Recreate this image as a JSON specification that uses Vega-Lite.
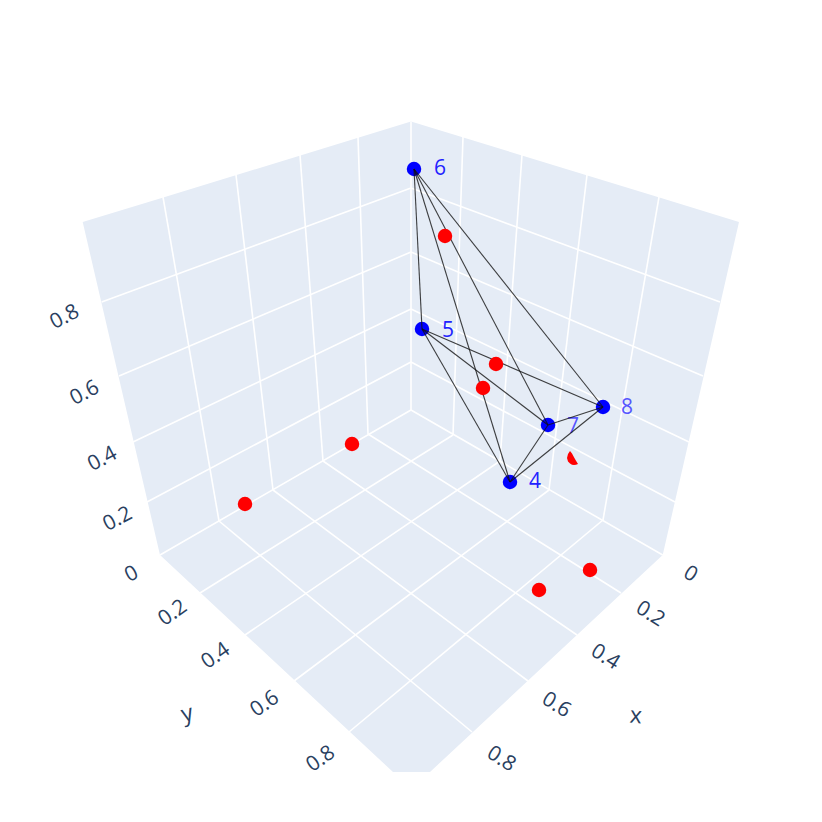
{
"$schema":"https://vega.github.io/schema/vega-lite/v6.json",
"width":822,"height":822,"padding":0,
"autosize":{"type":"fit","contains":"padding"},
"background":"white",
"view":{"stroke":null},
"datasets":{
"wallLeft":[
{"sx":82.7,"top":222,"bottom":222},{"sx":160,"top":198.5,"bottom":555},{"sx":411,"top":121.5,"bottom":410}],
"wallRight":[
{"sx":411,"top":121.5,"bottom":410},{"sx":662.7,"top":198.6,"bottom":555},{"sx":739,"top":222,"bottom":222}],
"floor":[
{"sx":160,"top":555,"bottom":555},{"sx":393,"top":420.4,"bottom":772},{"sx":411,"top":410,"bottom":772},{"sx":430,"top":421,"bottom":772},{"sx":662.7,"top":555,"bottom":555}
],
"grid":[
{"sx":163,"sy":197,"ex":219,"ey":521},{"sx":236,"sy":175,"ex":273,"ey":490},{"sx":300,"sy":155,"ex":323,"ey":461},{"sx":358,"sy":137,"ex":368,"ey":434},{"sx":411,"sy":121.5,"ex":411,"ey":410},
{"sx":463,"sy":137,"ex":453,"ey":435},{"sx":522,"sy":155,"ex":500,"ey":461},{"sx":587,"sy":175,"ex":549,"ey":490},{"sx":659,"sy":197,"ex":603,"ey":520},
{"sx":101.7,"sy":302,"ex":411,"ey":188},{"sx":119,"sy":376,"ex":411,"ey":252},{"sx":133,"sy":442,"ex":411,"ey":309},{"sx":147,"sy":502,"ex":411,"ey":362},
{"sx":720,"sy":302,"ex":411,"ey":188},{"sx":703,"sy":376,"ex":411,"ey":252},{"sx":689,"sy":442,"ex":411,"ey":309},{"sx":675,"sy":502,"ex":411,"ey":362},
{"sx":160,"sy":555,"ex":411,"ey":410},{"sx":662.7,"sy":555,"ex":411,"ey":410},
{"sx":200,"sy":593,"ex":453,"ey":435},{"sx":245,"sy":635,"ex":500,"ey":461},{"sx":294,"sy":681,"ex":549,"ey":490},{"sx":349,"sy":732,"ex":603,"ey":520},
{"sx":621,"sy":593,"ex":368,"ey":434},{"sx":577,"sy":635,"ex":323,"ey":461},{"sx":528,"sy":681,"ex":273,"ey":490},{"sx":472,"sy":732,"ex":219,"ey":521}
],
"mesh":[
{"a":"6","b":"5","sx":414,"sy":169,"ex":422,"ey":329},
{"a":"6","b":"4","sx":414,"sy":169,"ex":510,"ey":482},
{"a":"6","b":"7","sx":414,"sy":169,"ex":548,"ey":425},
{"a":"6","b":"8","sx":414,"sy":169,"ex":603,"ey":407},
{"a":"5","b":"4","sx":422,"sy":329,"ex":510,"ey":482},
{"a":"5","b":"7","sx":422,"sy":329,"ex":548,"ey":425},
{"a":"5","b":"8","sx":422,"sy":329,"ex":603,"ey":407},
{"a":"7","b":"4","sx":548,"sy":425,"ex":510,"ey":482},
{"a":"7","b":"8","sx":548,"sy":425,"ex":603,"ey":407},
{"a":"8","b":"4","sx":603,"sy":407,"ex":510,"ey":482}
],
"blue":[
{"label":"6","sx":414,"sy":169,"lx":440,"ly":168},
{"label":"5","sx":422,"sy":329,"lx":448,"ly":330},
{"label":"8","sx":603,"sy":407,"lx":627,"ly":407},
{"label":"7","sx":548,"sy":425,"lx":573,"ly":426},
{"label":"4","sx":510,"sy":482,"lx":535,"ly":481}
],
"red":[
{"sx":445,"sy":236},{"sx":496,"sy":364},{"sx":483,"sy":388},{"sx":352,"sy":444},{"sx":245,"sy":504},{"sx":590,"sy":570},{"sx":539,"sy":590}
],
"redClipped":[
{"sx":567,"top":458,"bottom":458},{"sx":568,"top":454,"bottom":461.5},{"sx":570,"top":451,"bottom":463.5},{"sx":572,"top":453.5,"bottom":464.7},{"sx":574,"top":457.3,"bottom":465},{"sx":576,"top":460.8,"bottom":464.7},{"sx":578,"top":464,"bottom":464}
],
"ticksX":[{"t":"0","sx":691,"sy":573},{"t":"0.2","sx":651,"sy":613},{"t":"0.4","sx":606,"sy":656},{"t":"0.6","sx":557,"sy":704},{"t":"0.8","sx":502,"sy":758}],
"ticksY":[{"t":"0.2","sx":172,"sy":612},{"t":"0.4","sx":215,"sy":655},{"t":"0.6","sx":264,"sy":703},{"t":"0.8","sx":320,"sy":758}],
"ticksZ":[{"t":"0","sx":131,"sy":573},{"t":"0.2","sx":117,"sy":518},{"t":"0.4","sx":101.7,"sy":458},{"t":"0.6","sx":84,"sy":392},{"t":"0.8","sx":64,"sy":316}],
"titleX":[{"t":"x","sx":636,"sy":715}],
"titleY":[{"t":"y","sx":187,"sy":713}]
},
"encoding":{
"x":{"field":"sx","type":"quantitative","scale":{"domain":[0,822],"nice":false,"zero":false},"axis":null},
"y":{"field":"sy","type":"quantitative","scale":{"domain":[822,0],"nice":false,"zero":false},"axis":null}
},
"layer":[
{"data":{"name":"wallLeft"},"mark":{"type":"area","color":"#E5ECF6","opacity":1},"encoding":{"y":{"field":"top","type":"quantitative","axis":null,"scale":{"domain":[822,0],"nice":false,"zero":false}},"y2":{"field":"bottom"}}},
{"data":{"name":"wallRight"},"mark":{"type":"area","color":"#E5ECF6","opacity":1},"encoding":{"y":{"field":"top","type":"quantitative","axis":null,"scale":{"domain":[822,0],"nice":false,"zero":false}},"y2":{"field":"bottom"}}},
{"data":{"name":"floor"},"mark":{"type":"area","color":"#E5ECF6","opacity":1},"encoding":{"y":{"field":"top","type":"quantitative","axis":null,"scale":{"domain":[822,0],"nice":false,"zero":false}},"y2":{"field":"bottom"}}},
{"data":{"name":"grid"},"mark":{"type":"rule","color":"white","strokeWidth":1.6},"encoding":{"x2":{"field":"ex"},"y2":{"field":"ey"}}},
{"data":{"name":"blue"},"mark":{"type":"point","filled":true,"shape":"circle","size":210,"color":"#0000FF","opacity":1}},
{"data":{"name":"blue"},"mark":{"type":"text","fontSize":21,"font":"Open Sans","align":"center","baseline":"middle","dy":1},"encoding":{"x":{"field":"lx","type":"quantitative","axis":null},"y":{"field":"ly","type":"quantitative","axis":null},"text":{"field":"label"},"color":{"field":"label","type":"nominal","legend":null,"scale":{"domain":["4","5","6","7","8"],"range":["#2222FF","#2222FF","#2222FF","#5555FF","#5555FF"]}}}},
{"data":{"name":"mesh"},"mark":{"type":"rule","color":"#111111","strokeWidth":1.1,"opacity":0.8},"encoding":{"x2":{"field":"ex"},"y2":{"field":"ey"}}},
{"data":{"name":"red"},"mark":{"type":"point","filled":true,"shape":"circle","size":210,"color":"#FF0000","opacity":1}},
{"data":{"name":"redClipped"},"mark":{"type":"area","color":"#FF0000","opacity":1},"encoding":{"y":{"field":"top","type":"quantitative","axis":null,"scale":{"domain":[822,0],"nice":false,"zero":false}},"y2":{"field":"bottom"}}},
{"data":{"name":"ticksX"},"mark":{"type":"text","fontSize":21,"font":"Open Sans","color":"#2A3F5F","angle":32,"align":"center","baseline":"middle","dy":1.5},"encoding":{"text":{"field":"t"}}},
{"data":{"name":"ticksY"},"mark":{"type":"text","fontSize":21,"font":"Open Sans","color":"#2A3F5F","angle":-35,"align":"center","baseline":"middle","dy":1.5},"encoding":{"text":{"field":"t"}}},
{"data":{"name":"ticksZ"},"mark":{"type":"text","fontSize":21,"font":"Open Sans","color":"#2A3F5F","angle":-28,"align":"center","baseline":"middle","dy":1.5},"encoding":{"text":{"field":"t"}}},
{"data":{"name":"titleX"},"mark":{"type":"text","fontSize":23,"font":"Open Sans","color":"#2A3F5F","angle":5,"align":"center","baseline":"middle","dy":1},"encoding":{"text":{"field":"t"}}},
{"data":{"name":"titleY"},"mark":{"type":"text","fontSize":23,"font":"Open Sans","color":"#2A3F5F","angle":-15,"align":"center","baseline":"middle","dy":1},"encoding":{"text":{"field":"t"}}}
]
}
